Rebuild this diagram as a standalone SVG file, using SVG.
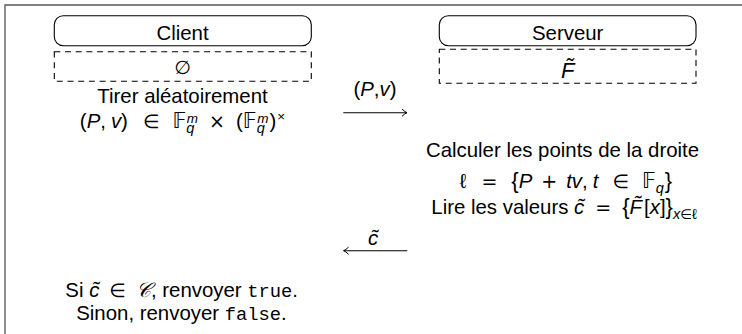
<svg xmlns="http://www.w3.org/2000/svg" width="742" height="334" viewBox="0 0 742 334">
<defs>
<style>
.t{font-family:"Liberation Sans",Arial,sans-serif;font-size:20.4px;fill:#000}
.i{font-style:italic}
.sc{font-size:14.5px}
.sp{font-size:13.5px}
.bb{font-family:"DejaVu Sans","DejaVu Serif",sans-serif;font-size:20.5px}
.sym{font-family:"DejaVu Sans",sans-serif;font-size:19px}
.br{font-size:22px}
.mono{font-family:"Liberation Mono","DejaVu Sans Mono",monospace;font-size:18.8px}
.box{fill:none;stroke:#000;stroke-width:1.1}
.dash{fill:none;stroke:#000;stroke-width:1.1;stroke-dasharray:6 4.7}
.frame{fill:none;stroke:#555;stroke-width:1.3}
.conn{fill:none;stroke:#000;stroke-width:1.1}
</style>
<marker id="ah" viewBox="-6 -5 8 10" refX="0" refY="0" markerWidth="8" markerHeight="10" orient="auto-start-reverse" markerUnits="userSpaceOnUse">
<path d="M-5,-3.6 Q-2,-0.7 0,0 Q-2,0.7 -5,3.6" fill="none" stroke="#000" stroke-width="1"/>
</marker>
</defs>
<rect width="742" height="334" fill="#fff"/>
<path class="frame" d="M5,334 V5 H742"/>

<g id="client">
<rect class="box" x="54.3" y="15.7" width="257" height="30" rx="9"/>
<text class="t" x="182.5" y="40" text-anchor="middle">Client</text>
</g>
<g id="client-state">
<rect class="dash" x="54.3" y="51.7" width="257" height="29.5"/>
<text class="sym" x="182.5" y="73.5" text-anchor="middle">∅</text>
</g>
<g id="client-draw">
<text class="t" x="182.5" y="103" text-anchor="middle">Tirer aléatoirement</text>
<text class="t" x="182.5" y="127.5" text-anchor="middle">(<tspan class="i">P</tspan>,<tspan dx="5" class="i">v</tspan>)<tspan dx="15" class="sym">∈</tspan><tspan dx="13" class="bb">𝔽</tspan><tspan class="sc i" dy="5">q</tspan><tspan class="sp i" dx="-7.5" dy="-10">m</tspan><tspan dx="11" dy="5" class="sym">×</tspan><tspan dx="11">(</tspan><tspan class="bb">𝔽</tspan><tspan class="sc i" dy="5">q</tspan><tspan class="sp i" dx="-7.5" dy="-10">m</tspan><tspan dx="1" dy="5">)</tspan><tspan class="sp" dx="1" dy="-7">×</tspan></text>
</g>

<g id="server">
<rect class="box" x="439.3" y="15.7" width="256.7" height="30" rx="9"/>
<text class="t" x="567.7" y="40" text-anchor="middle">Serveur</text>
</g>
<g id="server-state">
<rect class="dash" x="439.3" y="49.3" width="256.7" height="34"/>
<text class="t i" x="567.7" y="78" text-anchor="middle" style="font-size:22px">F̃</text>
</g>
<g id="server-compute">
<text class="t" x="562.5" y="157" text-anchor="middle">Calculer les points de la droite</text>
<text class="t" x="566" y="188" text-anchor="middle">ℓ<tspan dx="15" class="sym">=</tspan><tspan dx="14" class="br">{</tspan><tspan class="i">P</tspan><tspan dx="9" class="sym">+</tspan><tspan dx="9" class="i">tv</tspan>,<tspan dx="5" class="i">t</tspan><tspan dx="14" class="sym">∈</tspan><tspan dx="13" class="bb">𝔽</tspan><tspan class="sc i" dy="5">q</tspan><tspan dx="1" dy="-5" class="br">}</tspan></text>
<text class="t" x="564" y="214" text-anchor="middle">Lire les valeurs <tspan class="i">c̃</tspan><tspan dx="11" class="sym">=</tspan><tspan dx="11" class="br">{</tspan><tspan class="i">F̃</tspan><tspan dx="2">[</tspan><tspan class="i">x</tspan>]<tspan class="br">}</tspan><tspan class="sc i" dy="5">x</tspan><tspan class="sym" style="font-size:13.5px">∈</tspan><tspan class="sc">ℓ</tspan></text>
</g>

<g id="client-verify">
<text class="t" x="181.7" y="297" text-anchor="middle">Si <tspan class="i">c̃</tspan><tspan dx="10" class="sym">∈</tspan><tspan dx="10" style="font-family:'DejaVu Serif','DejaVu Sans',serif;font-style:italic">𝒞</tspan>, renvoyer <tspan class="mono">true</tspan>.</text>
<text class="t" x="181.5" y="319.5" text-anchor="middle">Sinon, renvoyer <tspan class="mono">false</tspan>.</text>
</g>

<g id="connectors">
<path class="conn" d="M343.3,112.7 H407" marker-end="url(#ah)"/>
<text class="t" x="375" y="96" text-anchor="middle">(<tspan class="i">P</tspan>,<tspan class="i">v</tspan>)</text>
<path class="conn" d="M343.6,250.7 H407.3" marker-start="url(#ah)"/>
<text class="t i" x="373" y="245" text-anchor="middle">c̃</text>
</g>
</svg>
